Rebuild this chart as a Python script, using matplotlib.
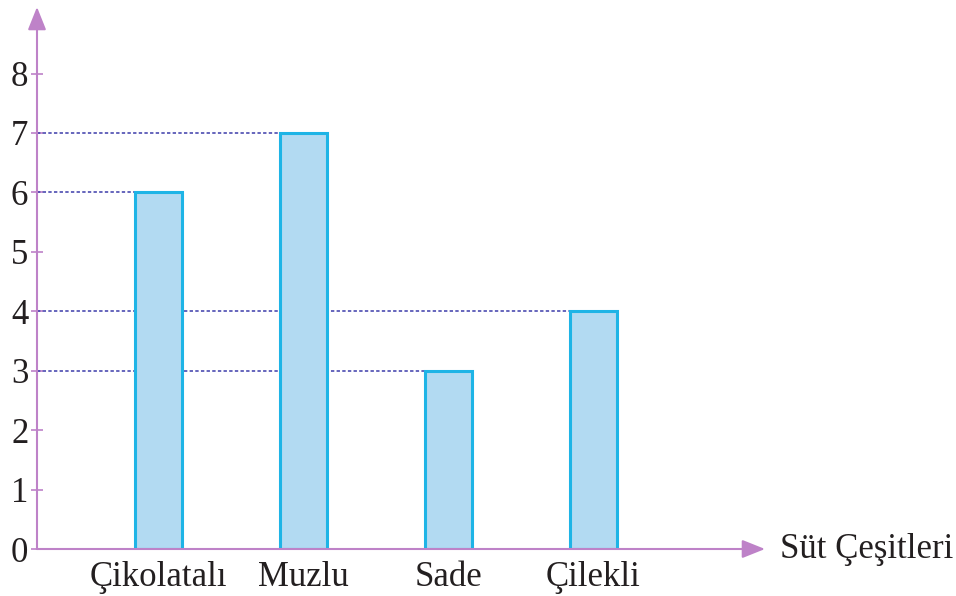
import matplotlib.pyplot as plt

categories = ["Çikolatalı", "Muzlu", "Sade", "Çilekli"]
values = [6, 7, 3, 4]
yticks = [0, 1, 2, 3, 4, 5, 6, 7, 8]
xlabel = "Süt Çeşitleri"

purple = "#BE82C8"
navy = "#3C3CAA"
fill = "#B2DAF2"
edge = "#1EB4E6"
ink = "#231F20"

plt.rcParams["font.family"] = ["Liberation Serif", "DejaVu Serif"]

fig = plt.figure(figsize=(9.56, 5.96), dpi=100)
ax = fig.add_axes([37 / 956, 47 / 596, 728 / 956, 542 / 596])

xmin, xmax = -0.838, 4.183
w = 0.324
pos = list(range(len(categories)))

ax.bar(pos, values, width=w, color=fill, edgecolor=edge, linewidth=2.2, zorder=3)

# dotted guides from the y axis to each bar
for x, v in zip(pos, values):
    ax.hlines(v, xmin, x - w / 2, colors=navy, linestyles=(0, (2.2, 1.5)), linewidth=1.1, zorder=2)

ax.set_xlim(xmin, xmax)
ax.set_ylim(0, 9.12)

for s in ax.spines.values():
    s.set_visible(False)

# axes drawn as arrows
arrow = dict(arrowstyle="-|>,head_length=0.7,head_width=0.28", color=purple, lw=1.5,
             mutation_scale=20, shrinkA=0, shrinkB=0)
ax.annotate("", xy=(1, 0), xytext=(0, 0), xycoords="axes fraction", arrowprops=arrow, zorder=4)
ax.annotate("", xy=(0, 1), xytext=(0, 0), xycoords="axes fraction", arrowprops=arrow, zorder=4)

ax.set_yticks(yticks)
ax.set_yticklabels([str(t) for t in yticks])
ax.tick_params(axis="y", direction="inout", length=8.5, width=1.2, color=purple, pad=2,
               labelsize=25, labelcolor=ink)
ax.set_xticks(pos)
ax.set_xticklabels(categories)
ax.tick_params(axis="x", length=0, pad=9, labelsize=25, labelcolor=ink)

ax.text(1.02, 0, xlabel, transform=ax.transAxes, ha="left", va="center", fontsize=25, color=ink)

fig.savefig("out.png", dpi=100)
